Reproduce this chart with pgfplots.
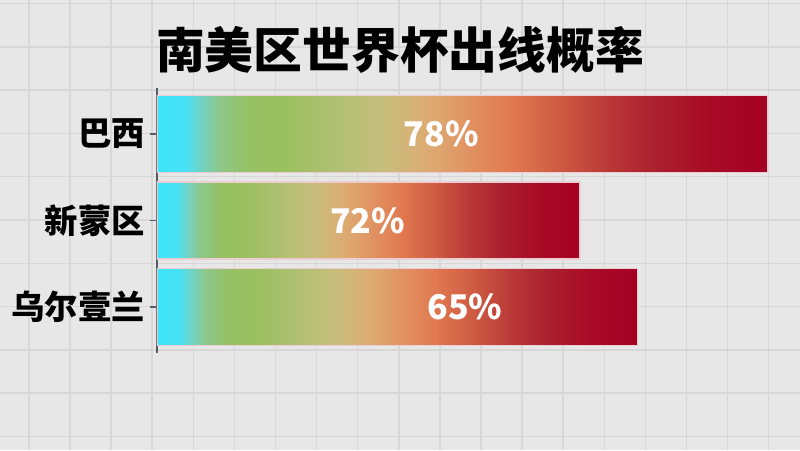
\documentclass[border=0pt]{standalone}
\usepackage{pgfplots}
\pgfplotsset{compat=1.18}
\usepackage{pgfplotstable}
\usepackage{fontspec}
\newfontfamily\cjk{Noto Sans CJK SC}

\definecolor{bgcol}{RGB}{231,231,231}
\definecolor{gridcol}{RGB}{215,215,215}
\definecolor{axiscol}{RGB}{85,92,100}
\definecolor{edgecol}{RGB}{236,205,210}

% cyan -> green -> tan -> orange -> dark red, stretched over each bar (25bp..75bp)
\pgfdeclarehorizontalshading{barshade}{100bp}{
  rgb(0bp)=(0.243,0.894,0.980);
  rgb(25bp)=(0.243,0.894,0.980);
  rgb(27.3bp)=(0.275,0.882,0.961);
  rgb(28.5bp)=(0.431,0.831,0.784);
  rgb(30bp)=(0.549,0.784,0.549);
  rgb(32.5bp)=(0.588,0.757,0.392);
  rgb(35.5bp)=(0.608,0.753,0.373);
  rgb(39.5bp)=(0.686,0.753,0.451);
  rgb(43.5bp)=(0.784,0.745,0.490);
  rgb(47bp)=(0.863,0.675,0.451);
  rgb(50bp)=(0.882,0.588,0.392);
  rgb(54bp)=(0.882,0.471,0.314);
  rgb(58bp)=(0.804,0.353,0.255);
  rgb(62bp)=(0.725,0.216,0.216);
  rgb(66bp)=(0.667,0.118,0.176);
  rgb(70.3bp)=(0.659,0.039,0.149);
  rgb(75bp)=(0.647,0.000,0.137);
  rgb(100bp)=(0.647,0.000,0.137)}

% idx: row, len: drawn bar length, lab: printed value, labx: label position
\pgfplotstableread{
idx len lab labx
0 78.0 78 36.3
1 54.0 72 26.9
2 61.3 65 39.3
}\data

\pgfplotsset{onebar/.style={xbar, bar shift=0pt, bar width=0.89, shade, shading=barshade,
  draw=edgecol, line width=0.9pt}}

\begin{document}
\begin{tikzpicture}[x=0.75pt,y=0.75pt]
\useasboundingbox (0,0) rectangle (800,450);
\fill[bgcol] (0,0) rectangle (800,450);
\foreach \i in {0,...,18}
  \draw[gridcol, line width=1.1pt] ({28.9+41.1*\i},0) -- ++(0,450);
\foreach \j in {0,...,10}
  \draw[gridcol, line width=1.1pt] (0,{446.5-43.3*\j}) -- ++(800,0);

\node[font=\cjk\bfseries\fontsize{36.6}{36.6}\selectfont] at (400,400) {南美区世界杯出线概率};
\coordinate (axpos) at (157,97);

\begin{axis}[
  at={(axpos)}, anchor=south west,
  scale only axis, width=474.75pt, height=198.75pt,
  xmin=0, xmax=80.8, ymin=-0.53, ymax=2.53, y dir=reverse,
  axis x line=none, axis y line*=left,
  axis line style={axiscol, line width=1.3pt},
  ytick={0,1,2}, yticklabels={巴西,新蒙区,乌尔壹兰},
  tick align=outside, major tick length=5.5pt,
  ytick style={axiscol, line width=1.3pt},
  yticklabel style={font=\cjk\bfseries\fontsize{25}{25}\selectfont, text=black},
]
% one plot per bar so that each bar gets its own full gradient
\addplot[onebar, restrict y to domain=-0.2:0.2] table[x=len, y=idx] {\data};
\addplot[onebar, restrict y to domain=0.8:1.2] table[x=len, y=idx] {\data};
\addplot[onebar, restrict y to domain=1.8:2.2] table[x=len, y=idx] {\data};
\addplot[draw=none, mark=none, nodes near coords={\pgfplotspointmeta\%},
  point meta=explicit symbolic,
  nodes near coords style={anchor=center, text=white,
    font=\cjk\bfseries\fontsize{25.5}{25.5}\selectfont}]
  table[x=labx, y=idx, meta=lab] {\data};
\end{axis}
\end{tikzpicture}
\end{document}
